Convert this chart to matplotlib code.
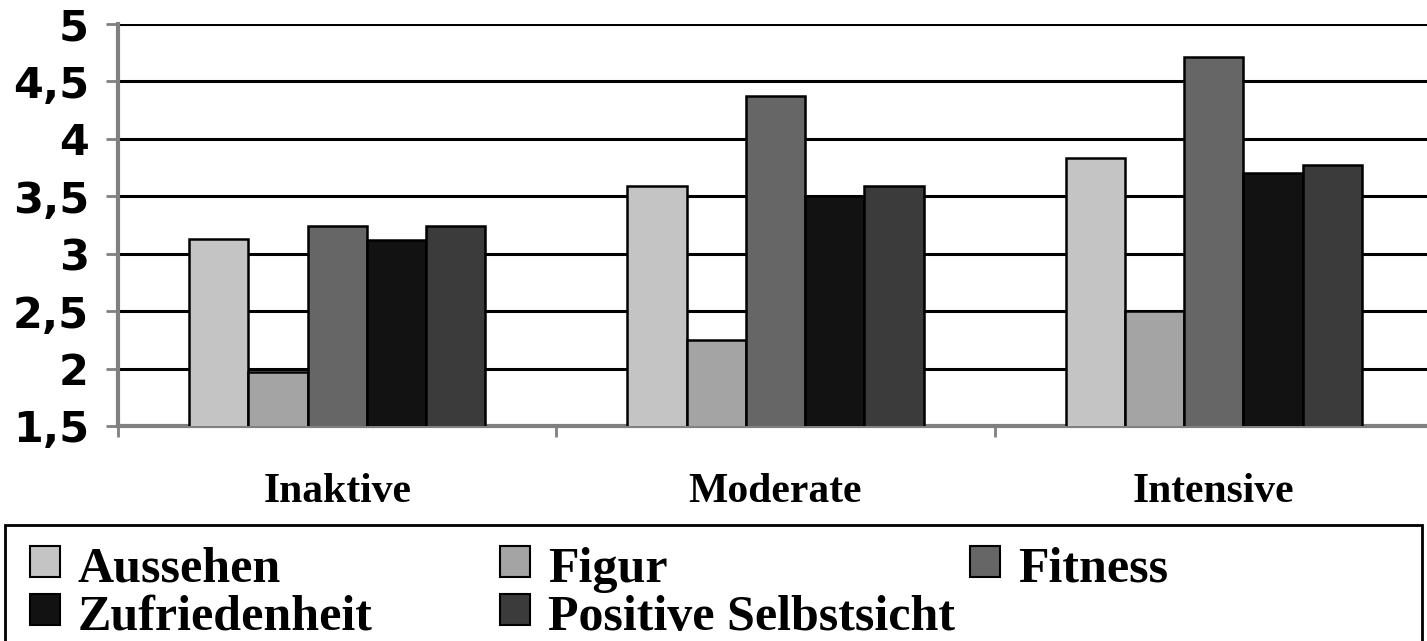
import matplotlib
matplotlib.use("Agg")
import matplotlib.pyplot as plt
import numpy as np
from matplotlib.patches import Rectangle
from matplotlib.ticker import FuncFormatter

# values
categories = ["Inaktive", "Moderate", "Intensive"]
series_names = ["Aussehen", "Figur", "Fitness", "Zufriedenheit", "Positive Selbstsicht"]
aussehen = [3.13, 3.59, 3.83]
figur = [1.97, 2.25, 2.50]
fitness = [3.24, 4.37, 4.71]
zufriedenheit = [3.12, 3.50, 3.70]
selbstsicht = [3.24, 3.59, 3.77]
series_values = [aussehen, figur, fitness, zufriedenheit, selbstsicht]
colors = ["#c4c4c4", "#a4a4a4", "#666666", "#121212", "#3b3b3b"]
y_ticks = [1.5, 2, 2.5, 3, 3.5, 4, 4.5, 5]

plt.rcParams["font.weight"] = "bold"

W, H = 1427, 641
fig = plt.figure(figsize=(W / 100, H / 100), dpi=100)
ax = fig.add_axes([118 / W, 1 - 426 / H, 1315 / W, 402 / H])

x = np.arange(len(categories))
bar_w = 0.676 / len(series_names)
for i, (vals, color) in enumerate(zip(series_values, colors)):
    offs = (i - (len(series_names) - 1) / 2) * bar_w
    ax.bar(x + offs, vals, bar_w, color=color, edgecolor="black", linewidth=1.8, zorder=3)

ax.set_ylim(1.5, 5)
ax.set_xlim(-0.5, len(categories) - 0.5)
ax.set_yticks(y_ticks)
ax.yaxis.set_major_formatter(FuncFormatter(lambda v, _: f"{v:g}".replace(".", ",")))
ax.grid(axis="y", color="black", linewidth=2.2, zorder=1)
ax.set_axisbelow(True)

ax.tick_params(axis="y", direction="out", length=9, width=2, color="#808080", pad=12,
               labelsize=31, labelfontfamily="DejaVu Sans")

# boundaries carry the tick marks, centres carry the labels
ax.set_xticks(np.arange(len(categories) + 1) - 0.5)
ax.set_xticklabels([])
ax.tick_params(axis="x", which="major", direction="out", length=8, width=2, color="#808080")
ax.set_xticks(x, minor=True)
ax.set_xticklabels(categories, minor=True, fontfamily="Liberation Serif", fontweight="bold", fontsize=30)
ax.tick_params(axis="x", which="minor", length=0, pad=34)

ax.spines[["top", "right"]].set_visible(False)
for side in ["left", "bottom"]:
    ax.spines[side].set_color("#808080")
    ax.spines[side].set_linewidth(3)

# legend box, laid out like the original (row-wise, fixed columns)
fig.patches.append(Rectangle((5 / W, -0.05), 1417 / W, 0.05 + 1 - 525 / H,
                             transform=fig.transFigure, fill=False,
                             edgecolor="black", linewidth=2))
col_x = [30, 500, 970]
row_y = [582, 630]
for k, (name, color) in enumerate(zip(series_names, colors)):
    r, c = divmod(k, 3)
    sx, by = col_x[c], row_y[r]
    fig.patches.append(Rectangle((sx / W, 1 - (by - 5) / H), 30 / W, 31 / H,
                                 transform=fig.transFigure, facecolor=color,
                                 edgecolor="black", linewidth=1.5))
    fig.text((sx + 48) / W, 1 - by / H, name, fontfamily="Liberation Serif",
             fontweight="bold", fontsize=36, va="baseline", ha="left")

fig.savefig("out.png", dpi=100)
